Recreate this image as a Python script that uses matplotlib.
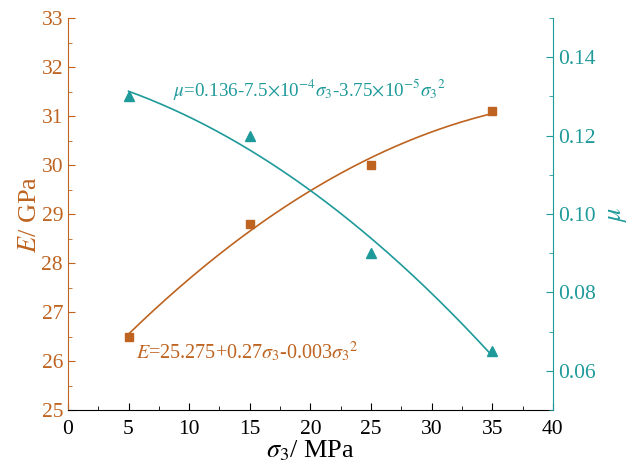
import numpy as np
import matplotlib
matplotlib.use("Agg")
import matplotlib.pyplot as plt
from matplotlib.ticker import MultipleLocator

plt.rcParams['font.family'] = ['Liberation Serif', 'DejaVu Serif']
plt.rcParams['mathtext.fontset'] = 'stix'

# data
sigma3 = [5, 15, 25, 35]
E_vals = [26.5, 28.8, 30.0, 31.1]
mu_vals = [0.130, 0.120, 0.090, 0.065]

# fit coefficients shown on the chart (highest power first)
E_fit = [-0.003, 0.27, 25.275]
mu_fit = [-3.75e-5, -7.5e-4, 0.136]

orange = '#BE6320'
teal = '#1F9A9A'

fig = plt.figure(figsize=(6.29, 4.74), dpi=100)
ax = fig.add_axes([0.108, 0.135, 0.771, 0.827])
ax2 = ax.twinx()

xs = np.linspace(sigma3[0], sigma3[-1], 200)
ax.plot(xs, np.polyval(E_fit, xs), color=orange, lw=1.2)
ax.plot(sigma3, E_vals, 's', color=orange, ms=6)
ax2.plot(xs, np.polyval(mu_fit, xs), color=teal, lw=1.2)
ax2.plot(sigma3, mu_vals, '^', color=teal, ms=7)

ax.set_xlim(0, 40)
ax.set_ylim(25, 33)
ax2.set_ylim(0.05, 0.15)
ax.xaxis.set_major_locator(MultipleLocator(5))
ax.xaxis.set_minor_locator(MultipleLocator(2.5))
ax.yaxis.set_major_locator(MultipleLocator(1))
ax.yaxis.set_minor_locator(MultipleLocator(0.5))
ax2.yaxis.set_minor_locator(MultipleLocator(0.01))
ax2.set_yticks([0.06, 0.08, 0.10, 0.12, 0.14])
ax2.set_yticklabels(['0.06', '0.08', '0.10', '0.12', '0.14'])

for a in (ax, ax2):
    a.spines['top'].set_visible(False)
ax.spines['left'].set_color(orange)
ax.spines['right'].set_visible(False)
ax2.spines['left'].set_visible(False)
ax2.spines['bottom'].set_visible(False)
ax2.spines['right'].set_color(teal)

ax.tick_params(axis='x', which='both', direction='in', labelsize=15.5, pad=7)
ax.tick_params(axis='x', which='major', length=5)
ax.tick_params(axis='x', which='minor', length=3)
ax.tick_params(axis='y', which='both', direction='in', colors=orange, labelsize=15.5)
ax.tick_params(axis='y', which='major', length=5)
ax.tick_params(axis='y', which='minor', length=3)
ax2.tick_params(axis='y', which='both', direction='in', colors=teal, labelsize=15.5)
ax2.tick_params(axis='y', which='major', length=5)
ax2.tick_params(axis='y', which='minor', length=3)

ax.set_xlabel(r'$\sigma_3$/ MPa', fontsize=19, labelpad=0)
ax.set_ylabel(r'$E$/ GPa', fontsize=19, color=orange, labelpad=0)
ax2.set_ylabel(r'$\mu$', fontsize=19, color=teal, labelpad=8)

ax.text(8.7, 31.55, r'$\mu$=0.136-7.5$\times$10$^{-4}$$\sigma_3$-3.75$\times$10$^{-5}$$\sigma_3$$^2$',
        color=teal, fontsize=13.7, va='center')
ax.text(5.6, 26.2, r'$E$=25.275+0.27$\sigma_3$-0.003$\sigma_3$$^2$',
        color=orange, fontsize=14.5, va='center')

fig.savefig('out.png', dpi=100)
